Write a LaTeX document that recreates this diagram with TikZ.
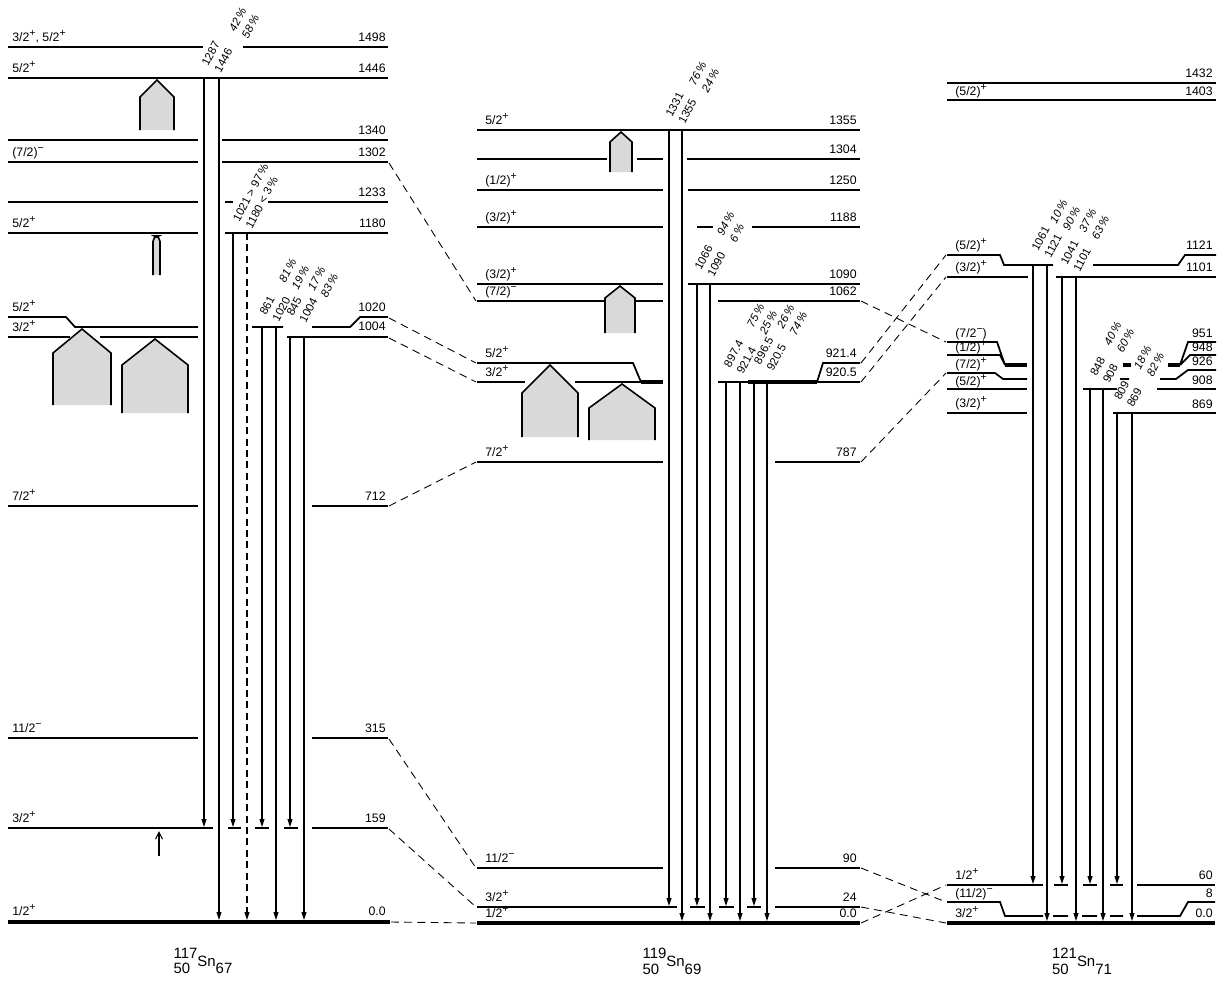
\documentclass[tikz,border=0pt]{standalone}
\usepackage{fontspec}
\setmainfont{Liberation Sans}
\usetikzlibrary{arrows.meta}
\newcommand{\pl}{\raisebox{0.62ex}{\fontsize{6}{6}\selectfont +}}
\newcommand{\mi}{\raisebox{0.62ex}{\fontsize{6}{6}\selectfont −}}
\newcommand{\lvfont}{\fontsize{7}{7.6}\selectfont}
\newcommand{\isolabel}[3]{\shortstack[l]{#1\\#2}\raisebox{4.5pt}{Sn}#3}
% stippled band: apex x, apex y, half width, shoulder y, bottom y
\newcommand{\house}[5]{\filldraw[band] (#1-#3,#5) -- (#1-#3,#4) -- (#1,#2) -- (#1+#3,#4) -- (#1+#3,#5);}

\begin{document}
\begin{tikzpicture}[x=0.2mm,y=-0.2mm,>={Triangle[length=1.6mm,width=1mm]},
  lev/.style={line width=1pt},
  gnd/.style={line width=2.8pt},
  tr/.style={->,line width=0.6pt},
  lnk/.style={line width=0.5pt,dash pattern=on 4.5pt off 3pt},
  spin/.style={anchor=base west,inner sep=0pt,font=\lvfont},
  en/.style={anchor=base east,inner sep=0pt,font=\lvfont},
  gam/.style={rotate=62,align=left,inner sep=0pt,font=\fontsize{6.5}{8.2}\selectfont},
  pct/.style={gam,font=\fontsize{6.5}{8.2}\selectfont\itshape},
  band/.style={line width=0.9pt,fill=gray!30},
  iso/.style={font=\fontsize{8.5}{9}\selectfont,inner sep=0pt}]
  \useasboundingbox (0,0) rectangle (1224,982);

  % ---------------- 117Sn ----------------
  \begin{scope}
    \draw[lev] (8,47) -- (203,47) (243,47) -- (388,47);
    \draw[lev] (8,78) -- (388,78);
    \draw[lev] (8,140) -- (198,140) (222,140) -- (388,140);
    \draw[lev] (8,162) -- (198,162) (222,162) -- (388,162);
    \draw[lev] (8,202) -- (198,202) (225,202) -- (233,202) (268,202) -- (388,202);
    \draw[lev] (8,233) -- (198,233) (225,233) -- (388,233);
    % 1020 and 1004 run into each other
    \draw[lev] (8,317) -- (66,317) -- (75,327) -- (198,327);
    \draw[lev] (8,337) -- (70,337) (100,337) -- (198,337);
    \draw[lev] (252,327) -- (283,327) (312,327) -- (350,327) -- (360,317) -- (388,317);
    \draw[lev] (287,337) -- (388,337);
    \draw[lev] (8,506) -- (198,506) (312,506) -- (388,506);
    \draw[lev] (8,738) -- (198,738) (312,738) -- (388,738);
    \draw[lev] (8,828) -- (213,828) (228,828) -- (241,828) (255,828) -- (269,828)
      (284,828) -- (298,828) (312,828) -- (388,828);
    \draw[gnd] (8,922) -- (390,922);
    % bands
    \house{157}{80}{17}{97}{130}
    \filldraw[band,rounded corners=3pt] (153,275) -- (153,236) -- (160,236) -- (160,275);
    \house{82}{329}{29}{353}{405}
    \house{155}{339}{33}{365}{413}
    \draw[->,line width=0.6pt,>={Straight Barb[length=1.4mm,width=1.4mm]}] (159,856) -- (159,831);
    % gamma rays
    \draw[tr] (204,78) -- (204,827);
    \draw[tr] (219,78) -- (219,920);
    \draw[tr] (233,233) -- (233,827);
    \draw[tr,dash pattern=on 4pt off 2.5pt] (247,233) -- (247,920);
    \draw[tr] (262,327) -- (262,827);
    \draw[tr] (276,327) -- (276,920);
    \draw[tr] (290,337) -- (290,827);
    \draw[tr] (304,337) -- (304,920);
    \node[gam] (g1446) at (217,57) {1287\\1446};
    \node[pct] (p1446) at (244,23) {42\,\%\\58\,\%};
    \node[gam] (g1180) at (257,196) {1021 > 97\,\%\\1180 < 3\,\%};
    \node[gam] (g1020) at (275,306) {861\\1020};
    \node[pct] (p1020) at (294,274) {81\,\%\\19\,\%};
    \node[gam] (g1004) at (302,307) {845\\1004};
    \node[pct] (p1004) at (323,282) {17\,\%\\83\,\%};
    % labels
    \node[spin] (s1498) at (12,41) {3/2\pl, 5/2\pl};
    \node[spin] (s1446) at (12,72) {5/2\pl};
    \node[spin] (s1302) at (12,156) {(7/2)\mi};
    \node[spin] (s1180) at (12,227) {5/2\pl};
    \node[spin] (s1020) at (12,311) {5/2\pl};
    \node[spin] (s1004) at (12,331) {3/2\pl};
    \node[spin] (s712) at (12,500) {7/2\pl};
    \node[spin] (s315) at (12,732) {11/2\mi};
    \node[spin] (s159) at (12,822) {3/2\pl};
    \node[spin] (s0) at (12,915) {1/2\pl};
    \node[en] (e1498) at (386,41) {1498};
    \node[en] (e1446) at (386,72) {1446};
    \node[en] (e1340) at (386,134) {1340};
    \node[en] (e1302) at (386,156) {1302};
    \node[en] (e1233) at (386,196) {1233};
    \node[en] (e1180) at (386,227) {1180};
    \node[en] (e1020) at (386,311) {1020};
    \node[en] (e1004) at (386,330) {1004};
    \node[en] (e712) at (386,500) {712};
    \node[en] (e315) at (386,732) {315};
    \node[en] (e159) at (386,822) {159};
    \node[en] (e0) at (386,915) {0.0};
    \node[iso] (sn117) at (203,961) {\isolabel{117}{50}{67}};
    \coordinate (a1302) at (389,163);
    \coordinate (a1020) at (389,318);
    \coordinate (a1004) at (389,338);
    \coordinate (a712) at (389,506);
    \coordinate (a315) at (389,739);
    \coordinate (a159) at (389,829);
    \coordinate (a0) at (391,922);
  \end{scope}

  % ---------------- 119Sn ----------------
  \begin{scope}
    \draw[lev] (477,130) -- (860,130);
    \draw[lev] (477,159) -- (607,159) (637,159) -- (663,159) (687,159) -- (860,159);
    \draw[lev] (477,190) -- (663,190) (688,190) -- (860,190);
    \draw[lev] (477,227) -- (663,227) (697,227) -- (713,227) (752,227) -- (860,227);
    \draw[lev] (477,284) -- (663,284) (688,284) -- (860,284);
    \draw[lev] (477,301) -- (605,301) (635,301) -- (663,301) (718,301) -- (860,301);
    % 921.4 and 920.5 run into each other
    \draw[lev] (477,363) -- (633,363) -- (641,382);
    \draw[lev] (477,382) -- (525,382) (575,382) -- (663,382);
    \draw[line width=2.2pt] (641,382) -- (663,382) (748,382) -- (817,382);
    \draw[lev] (718,382) -- (860,382) (817,382) -- (823,363) -- (860,363);
    \draw[lev] (477,462) -- (663,462) (775,462) -- (860,462);
    \draw[lev] (477,868) -- (663,868) (775,868) -- (860,868);
    \draw[lev] (477,907) -- (677,907) (690,907) -- (705,907) (719,907) -- (734,907)
      (747,907) -- (761,907) (775,907) -- (860,907);
    \draw[gnd] (477,923) -- (860,923);
    % bands
    \house{621}{132}{11}{142}{172}
    \house{620}{286}{15}{298}{333}
    \house{550}{365}{28}{393}{437}
    \house{622}{384}{33}{408}{440}
    % gamma rays
    \draw[tr] (669,130) -- (669,906);
    \draw[tr] (682,130) -- (682,921);
    \draw[tr] (697,284) -- (697,906);
    \draw[tr] (710,284) -- (710,921);
    \draw[tr] (726,382) -- (726,906);
    \draw[tr] (740,382) -- (740,921);
    \draw[tr] (754,382) -- (754,906);
    \draw[tr] (767,382) -- (767,921);
    \node[gam] (g1355) at (681,108) {1331\\1355};
    \node[pct] (p1355) at (704,77) {76\,\%\\24\,\%};
    \node[gam] (g1090) at (710,261) {1066\\1090};
    \node[pct] (p1090) at (732,227) {94\,\%\\6\,\%};
    \node[gam] (g9214) at (740,357) {897.4\\921.4};
    \node[pct] (p9214) at (762,319) {75\,\%\\25\,\%};
    \node[gam] (g9205) at (770,354) {896.5\\920.5};
    \node[pct] (p9205) at (792,320) {26\,\%\\74\,\%};
    % labels
    \node[spin] (t1355) at (485,124) {5/2\pl};
    \node[spin] (t1250) at (485,184) {(1/2)\pl};
    \node[spin] (t1188) at (485,221) {(3/2)\pl};
    \node[spin] (t1090) at (485,278) {(3/2)\pl};
    \node[spin] (t1062) at (485,295) {(7/2)\mi};
    \node[spin] (t9214) at (485,357) {5/2\pl};
    \node[spin] (t9205) at (485,376) {3/2\pl};
    \node[spin] (t787) at (485,456) {7/2\pl};
    \node[spin] (t90) at (485,862) {11/2\mi};
    \node[spin] (t24) at (485,901) {3/2\pl};
    \node[spin] (t0) at (485,917) {1/2\pl};
    \node[en] (f1355) at (857,124) {1355};
    \node[en] (f1304) at (857,153) {1304};
    \node[en] (f1250) at (857,184) {1250};
    \node[en] (f1188) at (857,221) {1188};
    \node[en] (f1090) at (857,278) {1090};
    \node[en] (f1062) at (857,295) {1062};
    \node[en] (f9214) at (857,357) {921.4};
    \node[en] (f9205) at (857,376) {920.5};
    \node[en] (f787) at (857,456) {787};
    \node[en] (f90) at (857,862) {90};
    \node[en] (f24) at (857,901) {24};
    \node[en] (f0) at (857,917) {0.0};
    \node[iso] (sn119) at (672,961) {\isolabel{119}{50}{69}};
    \coordinate (b1062w) at (476,301);
    \coordinate (b9214w) at (476,363);
    \coordinate (b9205w) at (476,382);
    \coordinate (b787w) at (476,462);
    \coordinate (b90w) at (476,868);
    \coordinate (b24w) at (476,907);
    \coordinate (b0w) at (476,923);
    \coordinate (b1062e) at (861,301);
    \coordinate (b9214e) at (861,363);
    \coordinate (b9205e) at (861,382);
    \coordinate (b787e) at (861,462);
    \coordinate (b90e) at (861,868);
    \coordinate (b24e) at (861,907);
    \coordinate (b0e) at (861,923);
  \end{scope}

  % ---------------- 121Sn ----------------
  \begin{scope}
    \draw[lev] (947,83) -- (1216,83);
    \draw[lev] (947,100) -- (1216,100);
    \draw[lev] (947,255) -- (1000,255) -- (1004,265) -- (1053,265)
      (1093,265) -- (1178,265) -- (1185,255) -- (1216,255);
    \draw[lev] (947,277) -- (1028,277) (1056,277) -- (1216,277);
    % 951, 948 and 926 run into each other
    \draw[lev] (947,342) -- (997,342) -- (1005,365) (947,355) -- (1000,355) -- (1005,365);
    \draw[line width=2.2pt] (1005,365) -- (1027,365) (1123,365) -- (1131,365) (1168,365) -- (1180,365);
    \draw[lev] (947,373) -- (995,373) -- (1003,379) -- (1027,379) (1120,379) -- (1129,379);
    \draw[lev] (1180,365) -- (1188,342) -- (1216,342) (1180,365) -- (1190,355) -- (1216,355);
    \draw[lev] (1160,379) -- (1176,379) -- (1188,370) -- (1216,370);
    \draw[lev] (947,389) -- (1027,389) (1083,389) -- (1117,389) (1157,389) -- (1216,389);
    \draw[lev] (947,413) -- (1027,413) (1113,413) -- (1216,413);
    \draw[lev] (947,885) -- (1043,885) (1054,885) -- (1068,885) (1083,885) -- (1097,885)
      (1110,885) -- (1123,885) (1137,885) -- (1215,885);
    \draw[lev] (947,902) -- (1000,902) -- (1005,916) -- (1043,916) (1053,916) -- (1068,916)
      (1082,916) -- (1097,916) (1110,916) -- (1123,916) (1137,916) -- (1180,916) -- (1188,902) -- (1215,902);
    \draw[gnd] (947,923) -- (1215,923);
    % gamma rays
    \draw[tr] (1033,265) -- (1033,884);
    \draw[tr] (1047,265) -- (1047,921);
    \draw[tr] (1062,277) -- (1062,884);
    \draw[tr] (1076,277) -- (1076,921);
    \draw[tr] (1090,389) -- (1090,884);
    \draw[tr] (1103,389) -- (1103,921);
    \draw[tr] (1117,413) -- (1117,884);
    \draw[tr] (1132,413) -- (1132,921);
    \node[gam] (g1121) at (1047,242) {1061\\1121};
    \node[pct] (p1121) at (1065,215) {10\,\%\\90\,\%};
    \node[gam] (g1101) at (1076,256) {1041\\1101};
    \node[pct] (p1101) at (1094,224) {37\,\%\\63\,\%};
    \node[gam] (g908) at (1104,370) {848\\908};
    \node[pct] (p908) at (1119,337) {40\,\%\\60\,\%};
    \node[gam] (g869) at (1128,394) {809\\869};
    \node[pct] (p869) at (1149,361) {18\,\%\\82\,\%};
    % labels
    \node[spin] (u1403) at (955,95) {(5/2)\pl};
    \node[spin] (u1121) at (955,249) {(5/2)\pl};
    \node[spin] (u1101) at (955,271) {(3/2)\pl};
    \node[spin] (u951) at (955,337) {(7/2\mi)};
    \node[spin] (u948) at (955,351) {(1/2)\pl};
    \node[spin] (u926) at (955,368) {(7/2)\pl};
    \node[spin] (u908) at (955,385) {(5/2)\pl};
    \node[spin] (u869) at (955,407) {(3/2)\pl};
    \node[spin] (u60) at (955,879) {1/2\pl};
    \node[spin] (u8) at (955,897) {(11/2)\mi};
    \node[spin] (u0) at (955,917) {3/2\pl};
    \node[en] (h1432) at (1213,77) {1432};
    \node[en] (h1403) at (1213,95) {1403};
    \node[en] (h1121) at (1213,249) {1121};
    \node[en] (h1101) at (1213,271) {1101};
    \node[en] (h951) at (1213,337) {951};
    \node[en] (h948) at (1213,351) {948};
    \node[en] (h926) at (1213,365) {926};
    \node[en] (h908) at (1213,384) {908};
    \node[en] (h869) at (1213,408) {869};
    \node[en] (h60) at (1213,879) {60};
    \node[en] (h8) at (1213,897) {8};
    \node[en] (h0) at (1213,917) {0.0};
    \node[iso] (sn121) at (1082,961) {\isolabel{121}{50}{71}};
    \coordinate (c1121) at (946,255);
    \coordinate (c1101) at (946,277);
    \coordinate (c951) at (946,342);
    \coordinate (c926) at (946,373);
    \coordinate (c60) at (946,885);
    \coordinate (c8) at (946,902);
    \coordinate (c0) at (946,923);
  \end{scope}

  % dashed links between the isotopes
  \draw[lnk] (a1302) -- (b1062w);
  \draw[lnk] (a1020) -- (b9214w);
  \draw[lnk] (a1004) -- (b9205w);
  \draw[lnk] (a712) -- (b787w);
  \draw[lnk] (a315) -- (b90w);
  \draw[lnk] (a159) -- (b24w);
  \draw[lnk] (a0) -- (b0w);
  \draw[lnk] (b9214e) -- (c1121);
  \draw[lnk] (b9205e) -- (c1101);
  \draw[lnk] (b1062e) -- (c951);
  \draw[lnk] (b787e) -- (c926);
  \draw[lnk] (b90e) -- (c8);
  \draw[lnk] (b24e) -- (c0);
  \draw[lnk] (b0e) -- (c60);
\end{tikzpicture}
\end{document}
